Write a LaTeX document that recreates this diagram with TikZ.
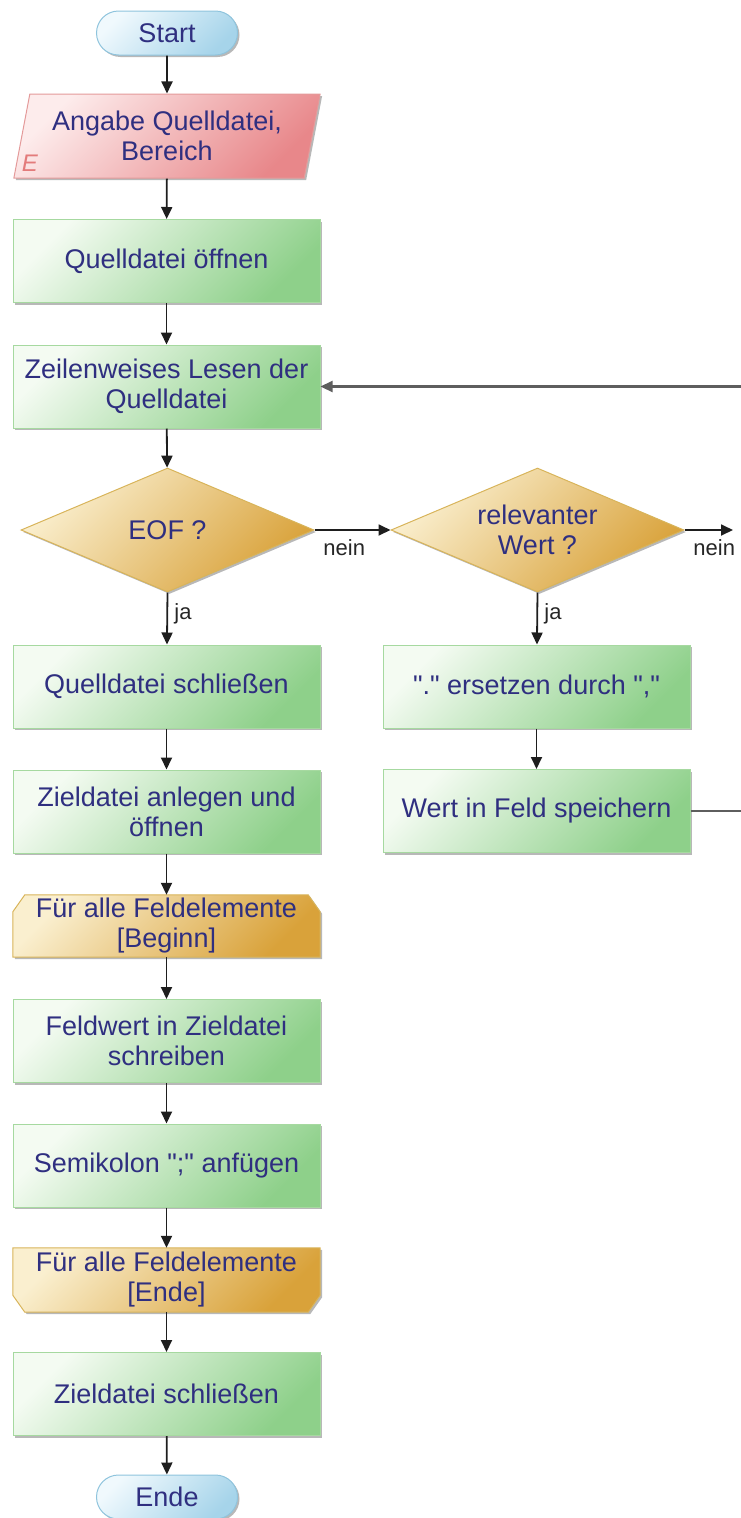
\documentclass[tikz,border=0pt]{standalone}
\usepackage{fontspec}
\setmainfont{Liberation Sans}
\usetikzlibrary{shapes.geometric,shapes.misc,arrows.meta,shadows}
\pgfdeclarelayer{background}
\pgfsetlayers{background,main}

% straight double quote, taken from a font instance without the TeX input mapping
\font\qfnt="Liberation Sans" at 27pt
\newcommand{\dq}{{\qfnt\char34}}

\definecolor{txt}{HTML}{2F2F80}
\definecolor{greenlight}{HTML}{F4FBF2}
\definecolor{greendark}{HTML}{8ED08A}
\definecolor{greenline}{HTML}{A6D9A0}
\definecolor{goldlight}{HTML}{FAEFCF}
\definecolor{golddark}{HTML}{D9A23A}
\definecolor{goldline}{HTML}{D8B45A}
\definecolor{redlight}{HTML}{FDECEC}
\definecolor{reddark}{HTML}{E8878A}
\definecolor{redline}{HTML}{E49A9A}
\definecolor{bluelight}{HTML}{F0F9FD}
\definecolor{bluedark}{HTML}{A6D4EA}
\definecolor{blueline}{HTML}{8FC4DD}
\definecolor{flowline}{HTML}{1E1E1E}
\definecolor{backline}{HTML}{5E5E5E}
\definecolor{marker}{HTML}{E37B7B}

\begin{document}
\begin{tikzpicture}[x=1pt,y=-1pt,
  base/.style={font=\fontsize{27}{30}\selectfont, text=txt, align=center, inner sep=0pt},
  shadowed/.style={drop shadow={shadow xshift=2pt,shadow yshift=-2pt,fill=black,opacity=0.28}},
  proc/.style={base, rectangle, minimum width=307pt, minimum height=83pt,
    draw=greenline, line width=1pt, top color=greenlight, bottom color=greendark,
    shading angle=45, shadowed},
  term/.style={base, rounded rectangle, minimum width=141pt, minimum height=44pt,
    draw=blueline, line width=1pt, top color=bluelight, bottom color=bluedark,
    shading angle=45, shadowed},
  inout/.style={base, trapezium, trapezium left angle=75, trapezium right angle=105,
    trapezium stretches=true, minimum width=307pt, minimum height=84pt,
    draw=redline, line width=1pt, top color=redlight, bottom color=reddark,
    shading angle=45, shadowed},
  decide/.style={base, diamond, aspect=2.36, minimum width=293pt, minimum height=124pt,
    draw=goldline, line width=1pt, top color=goldlight, bottom color=golddark,
    shading angle=45, shadowed},
  loopbox/.style={base, rectangle, minimum width=307pt},
  loopfill/.style={draw=goldline, line width=1pt, top color=goldlight, bottom color=golddark,
    shading angle=45, shadowed},
  tip/.style={-{Triangle[length=12pt,width=11pt]}},
  flow/.style={draw=flowline, line width=1.8pt, tip},
  back/.style={draw=backline, line width=2.2pt},
  lbl/.style={font=\fontsize{22}{24}\selectfont, text=black!85, inner sep=0pt},
]
\useasboundingbox (0,0) rectangle (741,1518);

% main column
\node[term] (start) at (167,33) {Start};
\node[inout] (input) at (167,136) {Angabe Quelldatei,\\Bereich};
\node[font=\fontsize{24}{24}\selectfont\itshape, text=marker, inner sep=0pt] (emark) at (30,163) {E};
\node[proc] (open) at (166.5,261) {Quelldatei öffnen};
\node[proc] (read) at (166.5,386.5) {Zeilenweises Lesen der\\Quelldatei};
\node[decide] (eof) at (167.5,530) {EOF ?};
\node[proc] (close) at (166.5,686.5) {Quelldatei schließen};
\node[proc] (create) at (166.5,811.5) {Zieldatei anlegen und\\öffnen};
\node[loopbox, minimum height=62pt] (lb) at (166.5,926) {Für alle Feldelemente\\{[Beginn]}};
\node[proc] (write) at (166.5,1041) {Feldwert in Zieldatei\\schreiben};
\node[proc] (semi) at (166.5,1165.5) {Semikolon \dq;\dq{} anfügen};
\node[loopbox, minimum height=64pt] (le) at (166.5,1280) {Für alle Feldelemente\\{[Ende]}};
\node[proc] (closez) at (166.5,1394) {Zieldatei schließen};
\node[term] (ende) at (167,1497) {Ende};

% right column
\node[decide] (rel) at (537.5,530) {relevanter\\Wert ?};
\node[proc] (repl) at (536.5,686.5) {\dq.\dq{} ersetzen durch \dq,\dq};
\node[proc] (store) at (536.5,811) {Wert in Feld speichern};

% loop bracket shapes with chamfered corners
\begin{pgfonlayer}{background}
  \path[loopfill] ([xshift=12pt]lb.north west) -- ([xshift=-12pt]lb.north east)
    -- ([yshift=-17pt]lb.north east) -- (lb.south east) -- (lb.south west)
    -- ([yshift=-17pt]lb.north west) -- cycle;
  \path[loopfill] (le.north west) -- (le.north east) -- ([yshift=17pt]le.south east)
    -- ([xshift=-12pt]le.south east) -- ([xshift=12pt]le.south west)
    -- ([yshift=17pt]le.south west) -- cycle;
\end{pgfonlayer}

% loose ends at the right border
\coordinate (outnein) at (733,530);
\coordinate (outstore) at (742,811);
\coordinate (backin) at (742,386.5);

% connectors
\draw[flow] (start) -- (input);
\draw[flow] (input) -- (open);
\draw[flow] (open) -- (read);
\draw[flow] (read) -- (eof);
\draw[flow] (eof.south) -- node[lbl, at start, anchor=north west, xshift=6pt, yshift=-10pt] {ja} (close);
\draw[flow] (close) -- (create);
\draw[flow] (create) -- (lb);
\draw[flow] (lb) -- (write);
\draw[flow] (write) -- (semi);
\draw[flow] (semi) -- (le);
\draw[flow] (le) -- (closez);
\draw[flow] (closez) -- (ende);

\draw[flow] (eof.east) -- node[lbl, at start, anchor=north west, xshift=8pt, yshift=-9pt] {nein} (rel.west);
\draw[flow] (rel.south) -- node[lbl, at start, anchor=north west, xshift=6pt, yshift=-10pt] {ja} (repl);
\draw[flow] (repl) -- (store);
\draw[flow] (rel.east) -- node[lbl, at start, anchor=north west, xshift=8pt, yshift=-9pt] {nein} (outnein);
\draw[back] (store.east) -- (outstore);
\draw[back, tip] (backin) -- (read.east);
\end{tikzpicture}
\end{document}
